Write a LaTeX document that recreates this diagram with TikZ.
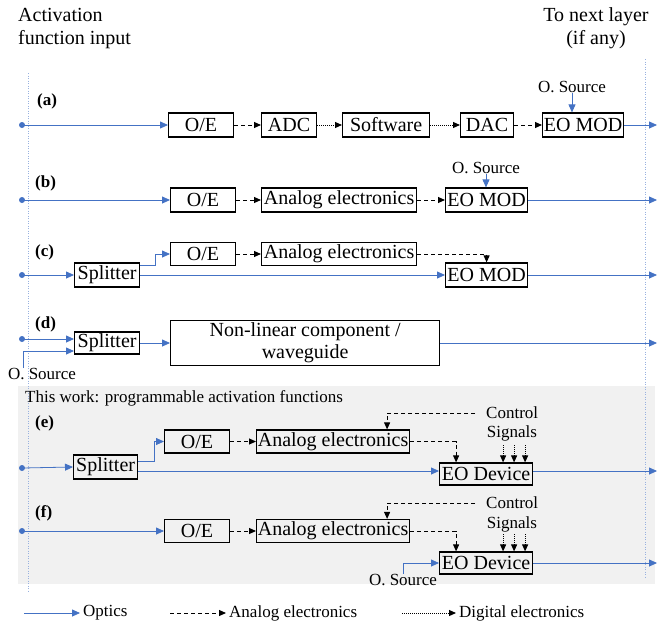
\documentclass[tikz,border=0pt]{standalone}
\usepackage{fontspec}
\setmainfont{Liberation Serif}
\usetikzlibrary{arrows.meta}
\definecolor{optblue}{RGB}{68,114,196}
\definecolor{bggray}{RGB}{241,241,241}

\begin{document}
\begin{tikzpicture}[x=1pt,y=-1pt,
    blk/.style={draw,line width=1.2pt,inner sep=1pt,minimum height=24pt,anchor=west,font=\fontsize{20}{22}\selectfont},
    smalltxt/.style={inner sep=0pt,font=\fontsize{17}{20}\selectfont},
    lbl/.style={inner sep=0pt,anchor=west,font=\bfseries\fontsize{17}{20}\selectfont},
    opt/.style={optblue,line width=0.8pt,-{Triangle[length=8pt,width=7pt]}},
    ana/.style={black,line width=1pt,dash pattern=on 4pt off 3pt,-{Triangle[length=7pt,width=6pt]}},
    dig/.style={black,line width=1pt,dash pattern=on 1pt off 1pt,-{Triangle[length=7pt,width=6pt]}},
    guide/.style={optblue!55,line width=0.6pt,dash pattern=on 1pt off 1.5pt}]
        \useasboundingbox (0,0) rectangle (658,624);
        \fill[bggray] (18,386) rectangle (655,584);
        \draw[guide] (28,73) -- (28,592);
        \draw[guide] (645,59) -- (645,578);

        \node[inner sep=0pt,anchor=north west,align=left,font=\fontsize{20}{23}\selectfont] (ttlin) at (18,8) {Activation\\function input};
        \node[inner sep=0pt,anchor=north,align=center,font=\fontsize{20}{23}\selectfont] (ttlout) at (596,7) {To next layer\\(if any)};

          \foreach \r/\y in {a/125,b/200,c/275,d/339,e/468,f/531}{
            \coordinate (in\r) at (22,\y);
            \fill[optblue] (in\r) circle [radius=3pt];
          }
          \foreach \r/\y in {a/125,b/200,c/275,d/343,e/471,f/563}{
            \coordinate (out\r) at (657,\y);
          }

          \node[lbl] (la) at (37,101) {(a)};
          \node[lbl] (lb) at (35,183) {(b)};
          \node[lbl] (lc) at (35,252) {(c)};
          \node[lbl] (ld) at (35,324) {(d)};
          \node[lbl] (le) at (35,423) {(e)};
          \node[lbl] (lf) at (35,513) {(f)};

          % (a)
          \node[blk,minimum width=65pt] (oea) at (168,125) {O/E};
          \node[blk,minimum width=55pt] (adca) at (261,125) {ADC};
          \node[blk,minimum width=87pt] (swa) at (342,125) {Software};
          \node[blk,minimum width=53pt] (daca) at (460,125) {DAC};
          \node[blk,minimum width=81pt] (eoa) at (542,125) {EO MOD};
          \node[smalltxt] (srca) at (572,87) {O. Source};
          \draw[opt] (ina) -- (oea.west);
          \draw[ana] (oea) -- (adca);
          \draw[dig] (adca) -- (swa);
          \draw[dig] (swa) -- (daca);
          \draw[ana] (daca) -- (eoa);
          \draw[opt] (srca.south) -- (srca.south |- eoa.north);
          \draw[opt] (eoa.east) -- (outa);

          % (b)
          \node[blk,minimum width=65pt] (oeb) at (170,200) {O/E};
          \node[blk,minimum width=155pt] (anb) at (261,200) {Analog electronics};
          \node[blk,minimum width=82pt] (eob) at (445,200) {EO MOD};
          \node[smalltxt] (srcb) at (486,168) {O. Source};
          \draw[opt] (inb) -- (oeb.west);
          \draw[ana] (oeb) -- (anb);
          \draw[ana] (anb) -- (eob);
          \draw[opt] (srcb.south) -- (srcb.south |- eob.north);
          \draw[opt] (eob.east) -- (outb);

          % (c)
          \node[blk,minimum width=65pt] (splc) at (74,275) {Splitter};
          \node[blk,minimum width=65pt,minimum height=23pt] (oec) at (170,254) {O/E};
          \node[blk,minimum width=155pt,minimum height=23pt] (anc) at (261,254) {Analog electronics};
          \node[blk,minimum width=82pt] (eoc) at (445,275) {EO MOD};
          \draw[opt] (inc) -- (splc.west);
          \draw[opt] ([yshift=10pt]splc.east) -- ++(15,0) |- (oec.west);
          \draw[ana] (oec) -- (anc);
          \draw[ana] (anc.east) -| (eoc.north);
          \draw[opt] (splc.east) -- (eoc.west);
          \draw[opt] (eoc.east) -- (outc);

          % (d)
          \node[blk,minimum width=65pt,minimum height=22pt] (spld) at (74,343) {Splitter};
          \node[blk,minimum width=269pt,minimum height=45pt,align=center] (nld) at (170,343) {Non-linear component /\\waveguide};
          \node[smalltxt] (srcd) at (42,374) {O. Source};
          \draw[opt] (ind) -- (ind -| spld.west);
          \draw[opt] ([xshift=-19pt]srcd.north) |- ([yshift=-8pt]spld.west);
          \draw[opt] (spld) -- (nld);
          \draw[opt] (nld.east) -- (outd);

          \node[smalltxt,anchor=west] (thiswork) at (25,398) {This work: programmable activation functions};

          % (e)
          \node[blk,minimum width=64pt] (sple) at (73,467) {Splitter};
          \node[blk,minimum width=65pt,minimum height=23pt] (oee) at (164,441.5) {O/E};
          \node[blk,minimum width=153pt,minimum height=23pt] (ane) at (256,441.5) {Analog electronics};
          \node[blk,minimum width=93pt,minimum height=22pt] (eoe) at (439,474) {EO Device};
          \node[smalltxt,anchor=west] (cone) at (486,413) {Control};
          \node[smalltxt] (sige) at (512,433) {Signals};
          \draw[opt] (ine) -- (sple.west);
          \draw[opt] ([yshift=6pt]sple.east) -- ++(16,0) |- (oee.west);
          \draw[ana] (oee) -- (ane);
          \draw[ana] (ane.east) -| ([xshift=-30pt]eoe.north);
          \draw[ana] ([xshift=-11pt]cone.west) -| ([xshift=54pt]ane.north);
          \foreach \dx in {17,28,39}{
            \draw[dig] ([xshift=\dx pt,yshift=17pt]eoe.north) -- ([xshift=\dx pt]eoe.north);
          }
          \draw[opt] ([yshift=-4pt]sple.east) -- ([yshift=-4pt]sple.east -| eoe.west);
          \draw[opt] (eoe.east |- oute) -- (oute);

          % (f)
          \node[blk,minimum width=65pt,minimum height=23pt] (oef) at (164,531) {O/E};
          \node[blk,minimum width=153pt,minimum height=23pt] (anf) at (256,531) {Analog electronics};
          \node[blk,minimum width=93pt,minimum height=22pt] (eof) at (439,563) {EO Device};
          \node[smalltxt,anchor=west] (conf) at (486,503) {Control};
          \node[smalltxt] (sigf) at (512,524) {Signals};
          \node[smalltxt] (srcf) at (403,580) {O. Source};
          \draw[opt] (inf) -- (oef.west);
          \draw[ana] (oef) -- (anf);
          \draw[ana] (anf.east) -| ([xshift=-30pt]eof.north);
          \draw[ana] ([xshift=-11pt]conf.west) -| ([xshift=54pt]anf.north);
          \foreach \dx in {17,28,39}{
            \draw[dig] ([xshift=\dx pt,yshift=17pt]eof.north) -- ([xshift=\dx pt]eof.north);
          }
          \draw[opt] (srcf.north) |- (eof.west);
          \draw[opt] (eof.east) -- (outf);

          % legend
          \coordinate (lgo) at (24,613);
          \coordinate (lga) at (170,613);
          \coordinate (lgd) at (402,613);
          \node[smalltxt,anchor=west,inner sep=3pt] (lgotxt) at (80,613) {Optics};
          \node[smalltxt,anchor=west,inner sep=3pt] (lgatxt) at (226,613) {Analog electronics};
          \node[smalltxt,anchor=west,inner sep=3pt] (lgdtxt) at (456,613) {Digital electronics};
          \draw[opt] (lgo) -- (lgotxt.west);
          \draw[ana] (lga) -- (lgatxt.west);
          \draw[dig] (lgd) -- (lgdtxt.west);
        \end{tikzpicture}
\end{document}
